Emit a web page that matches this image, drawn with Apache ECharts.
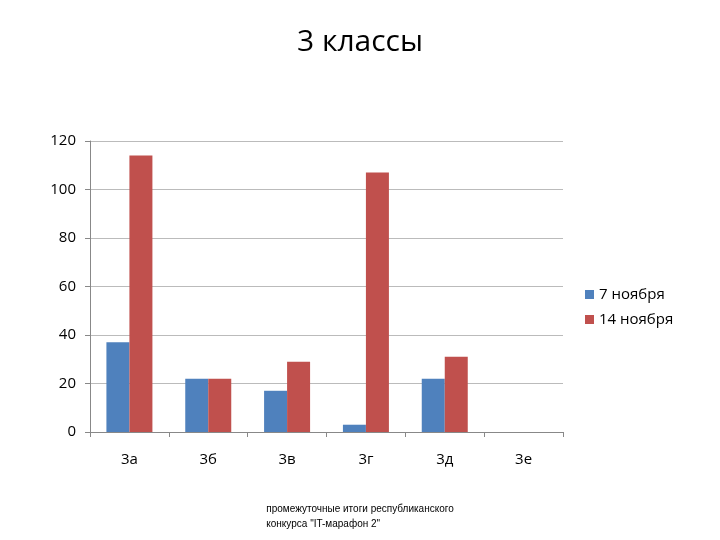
<!DOCTYPE html>
<html><head><meta charset="utf-8">
<script src="https://cdn.jsdelivr.net/npm/echarts@6/dist/echarts.min.js"></script>
<style>html,body{margin:0;background:#fff}#c{width:720px;height:540px}</style>
</head><body><div id="c"></div>
<script>
const categories = ['3а','3б','3в','3г','3д','3е'];
const nov7 = [37, 22, 17, 3, 22, 0];
const nov14 = [114, 22, 29, 107, 31, 0];
const chart = echarts.init(document.getElementById('c'));
chart.setOption({
  animation: false,
  title: [{text: '3 классы', left: 'center', top: 22, textStyle: {fontFamily: 'Open Sans', fontSize: 30, fontWeight: 'normal', color: '#000'}}],
  graphic: [{type: 'text', left: 'center', top: 502, style: {text: 'промежуточные итоги республиканского\nконкурса "IT-марафон 2"', align: 'center', fontFamily: 'Liberation Sans', fontSize: 10, fill: '#000', lineHeight: 15}}],
  legend: {orient: 'vertical', left: 580, top: 282, itemWidth: 9, itemHeight: 9, itemGap: 10, icon: 'rect',
    textStyle: {fontFamily: 'Open Sans', fontSize: 15, color: '#000'}},
  grid: {left: 90, top: 141, width: 473, height: 291},
  xAxis: {type: 'category', data: categories,
    axisLine: {lineStyle: {color: '#888'}}, axisTick: {show: true, length: 5, lineStyle: {color: '#888'}},
    axisLabel: {fontFamily: 'Open Sans', fontSize: 15, color: '#000', margin: 20}},
  yAxis: {type: 'value', min: 0, max: 120, interval: 20,
    axisLine: {show: true, lineStyle: {color: '#888'}}, axisTick: {show: true, length: 5, lineStyle: {color: '#888'}},
    splitLine: {lineStyle: {color: '#bbb'}},
    axisLabel: {fontFamily: 'Open Sans', fontSize: 15, color: '#000', margin: 14}},
  series: [
    {name: '7 ноября', type: 'bar', data: nov7, barWidth: 23, barGap: '0%', itemStyle: {color: '#4F81BD'}},
    {name: '14 ноября', type: 'bar', data: nov14, barWidth: 23, itemStyle: {color: '#C0504D'}}
  ]
});
</script></body></html>
